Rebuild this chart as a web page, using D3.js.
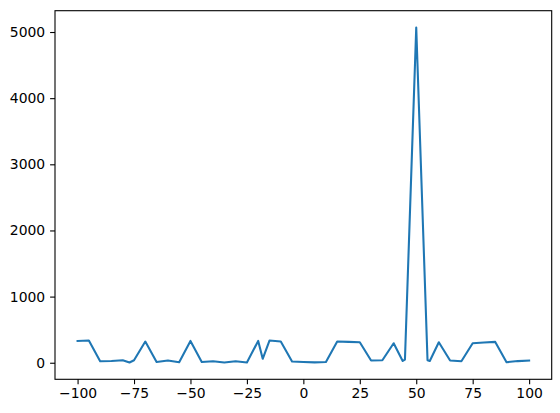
<!DOCTYPE html>
<html>
<head>
<meta charset="utf-8">
<script src="https://cdn.jsdelivr.net/npm/d3@7"></script>
<style>
  body { margin: 0; background: #fff; }
  #chart text { font-family: "DejaVu Sans", sans-serif; font-size: 13.9px; fill: #000; }
</style>
</head>
<body>
<div id="chart"></div>
<script>
// values
const xValues = [-100, -95, -90, -85, -80, -77, -75, -70, -65, -60, -55, -50, -45, -40, -35, -30, -25, -20, -18, -15, -10, -5, 0, 5, 10, 15, 20, 25, 30, 35, 40, 44, 45, 50, 55, 56, 60, 65, 70, 75, 80, 85, 90, 95, 100];
const yValues = [330, 335, 22, 27, 38, 3, 38, 320, 12, 33, 8, 330, 12, 22, 3, 22, 3, 330, 60, 335, 320, 18, 12, 5, 12, 320, 315, 310, 33, 38, 295, 27, 48, 5069, 38, 27, 310, 33, 22, 295, 305, 315, 8, 25, 33];
const xTicks = [-100, -75, -50, -25, 0, 25, 50, 75, 100];
const yTicks = [0, 1000, 2000, 3000, 4000, 5000];

const W = 560, H = 413;
const margin = {top: 10.7, right: 8.3, bottom: 33.7, left: 55};
const width = W - margin.left - margin.right;
const height = H - margin.top - margin.bottom;

const points = xValues.map((x, i) => ({x, y: yValues[i]}));

// matplotlib style 5% padding
const pad = (ext) => {
  const r = ext[1] - ext[0];
  return [ext[0] - r * 0.05, ext[1] + r * 0.05];
};

const svg = d3.select("#chart")
  .append("svg")
    .attr("width", W)
    .attr("height", H)
  .append("g")
    .attr("transform", `translate(${margin.left},${margin.top})`);

const x = d3.scaleLinear()
  .domain(pad(d3.extent(xValues)))
  .range([0, width]);

const y = d3.scaleLinear()
  .domain(pad(d3.extent(yValues)))
  .range([height, 0]);

const xAxis = svg.append("g")
  .attr("transform", `translate(0,${height})`)
  .call(d3.axisBottom(x).tickValues(xTicks).tickFormat(d3.format("d")).tickSize(4.9).tickPadding(4.2));
xAxis.select(".domain").remove();
xAxis.selectAll(".tick line").attr("stroke", "#000").attr("stroke-width", 1.1);

const yAxis = svg.append("g")
  .call(d3.axisLeft(y).tickValues(yTicks).tickFormat(d3.format("d")).tickSize(4.9).tickPadding(4.9));
yAxis.select(".domain").remove();
yAxis.selectAll(".tick line").attr("stroke", "#000").attr("stroke-width", 1.1);

svg.append("path")
  .datum(points)
  .attr("fill", "none")
  .attr("stroke", "#1f77b4")
  .attr("stroke-width", 2.08)
  .attr("stroke-linejoin", "round")
  .attr("stroke-linecap", "square")
  .attr("d", d3.line()
    .x(d => x(d.x))
    .y(d => y(d.y)));

// spines
svg.append("rect")
  .attr("x", 0)
  .attr("y", 0)
  .attr("width", width)
  .attr("height", height)
  .attr("fill", "none")
  .attr("stroke", "#000")
  .attr("stroke-width", 1.1);
</script>
</body>
</html>
